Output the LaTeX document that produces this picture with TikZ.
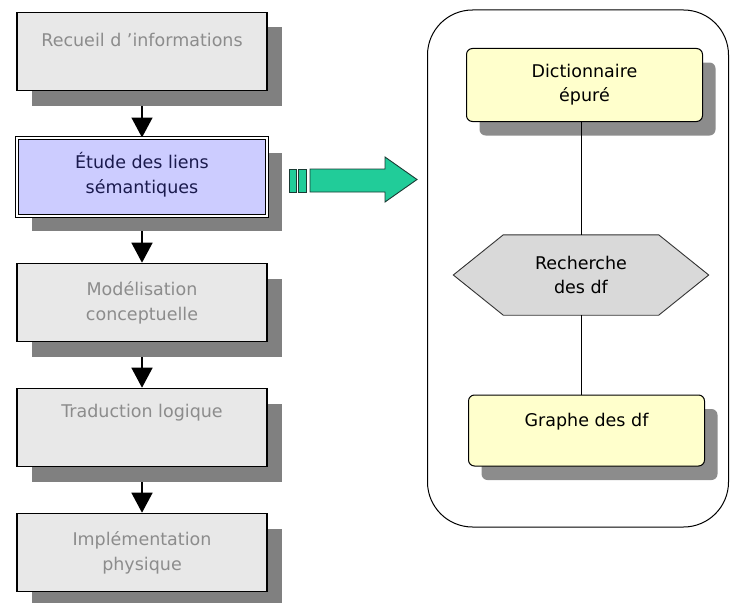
\documentclass[tikz,border=0pt]{standalone}
\usepackage{fontspec}
\setmainfont{DejaVu Sans}
\usetikzlibrary{shadows,backgrounds,arrows.meta,calc}
\definecolor{boxgray}{HTML}{E8E8E8}
\definecolor{txtgray}{HTML}{8C8C8C}
\definecolor{lav}{HTML}{CCCCFF}
\definecolor{navy}{HTML}{1A1A4D}
\definecolor{pale}{HTML}{FFFFCC}
\definecolor{hexgray}{HTML}{D9D9D9}
\definecolor{shade}{HTML}{808080}
\definecolor{mint}{HTML}{21CC99}
\definecolor{mintedge}{HTML}{1A3A33}
\tikzset{
  stagebox/.style={draw=black, line width=1.6pt, fill=boxgray, minimum width=250pt, minimum height=78pt, inner sep=0pt,
    drop shadow={shadow xshift=15pt, shadow yshift=-15pt, fill=shade, opacity=1}},
  curbox/.style={stagebox, fill=lav, double=white, double distance=1.6pt, line width=1pt},
  sidebox/.style={draw=black, line width=1pt, fill=pale, rounded corners=6pt, minimum width=236pt, minimum height=73pt, inner sep=0pt,
    drop shadow={shadow xshift=13pt, shadow yshift=-14pt, fill=shade, opacity=0.9}},
  gtext/.style={text=txtgray, font=\fontsize{17.5}{25}\selectfont, align=center},
  ntext/.style={text=navy, font=\fontsize{17.5}{25}\selectfont, align=center},
  btext/.style={text=black, font=\fontsize{17.5}{24}\selectfont, align=center},
  flow/.style={line width=1.5pt, -{Triangle[width=21pt,length=20pt]}},
  link/.style={line width=1pt},
}
\begin{document}
\begin{tikzpicture}[x=1pt,y=-1pt]
\useasboundingbox (0,0) rectangle (730,602);
% left column
\node[stagebox] (b1) at (142,51.5) {};
\node[curbox] (b2) at (142,177) {};
\node[stagebox] (b3) at (142,302.5) {};
\node[stagebox] (b4) at (142,427.5) {};
\node[stagebox] (b5) at (142,552.5) {};
\node[gtext] (t1) at (142,40) {Recueil d 'informations};
\node[ntext] (t2) at (142,175) {Étude des liens\\sémantiques};
\node[gtext] (t3) at (b3.center) {Modélisation\\conceptuelle};
\node[gtext] (t4) at (142,413) {Traduction logique};
\node[gtext] (t5) at (b5.center) {Implémentation\\physique};
\begin{scope}[on background layer]
\draw[flow] (b1.south) -- (b2.north);
\draw[flow] (b2.south) -- (b3.north);
\draw[flow] (b3.south) -- (b4.north);
\draw[flow] (b4.south) -- (b5.north);
\end{scope}
% green arrow
\begin{scope}[draw=mintedge, fill=mint, line width=0.9pt]
\filldraw (289,169) rectangle (296,192);
\filldraw (298,169) rectangle (306,192);
\filldraw (310,169) -- (385,169) -- (385,157) -- (417,179.5) -- (385,202) -- (385,192) -- (310,192) -- cycle;
\end{scope}
% right panel
\node[draw=black, line width=1pt, rounded corners=45pt, minimum width=301pt, minimum height=517pt, inner sep=0pt] (panel) at (578,268.5) {};
\node[sidebox] (dict) at (584.5,85) {};
\node[btext] (dictt) at (dict.center) {Dictionnaire\\épuré};
\node[minimum width=255pt, minimum height=80pt, inner sep=0pt] (hex) at (581,275) {};
\fill[hexgray] ($(hex.west)$) -- ($(hex.north west)+(50,0)$) -- ($(hex.north east)+(-50,0)$) -- (hex.east) -- ($(hex.south east)+(-50,0)$) -- ($(hex.south west)+(50,0)$) -- cycle;
\draw[line width=0.9pt, draw=black!80] ($(hex.west)$) -- ($(hex.north west)+(50,0)$) -- ($(hex.north east)+(-50,0)$) -- (hex.east) -- ($(hex.south east)+(-50,0)$) -- ($(hex.south west)+(50,0)$) -- cycle;
\node[btext] (hext) at (hex.center) {Recherche\\des df};
\node[sidebox, minimum height=71pt] (graphe) at (586.5,430.5) {};
\node[btext] (graphet) at (586.5,422) {Graphe des df};
\draw[link] (hex.north |- dict.south) -- (hex.north);
\draw[link] (hex.south) -- (hex.south |- graphe.north);
\end{tikzpicture}
\end{document}
